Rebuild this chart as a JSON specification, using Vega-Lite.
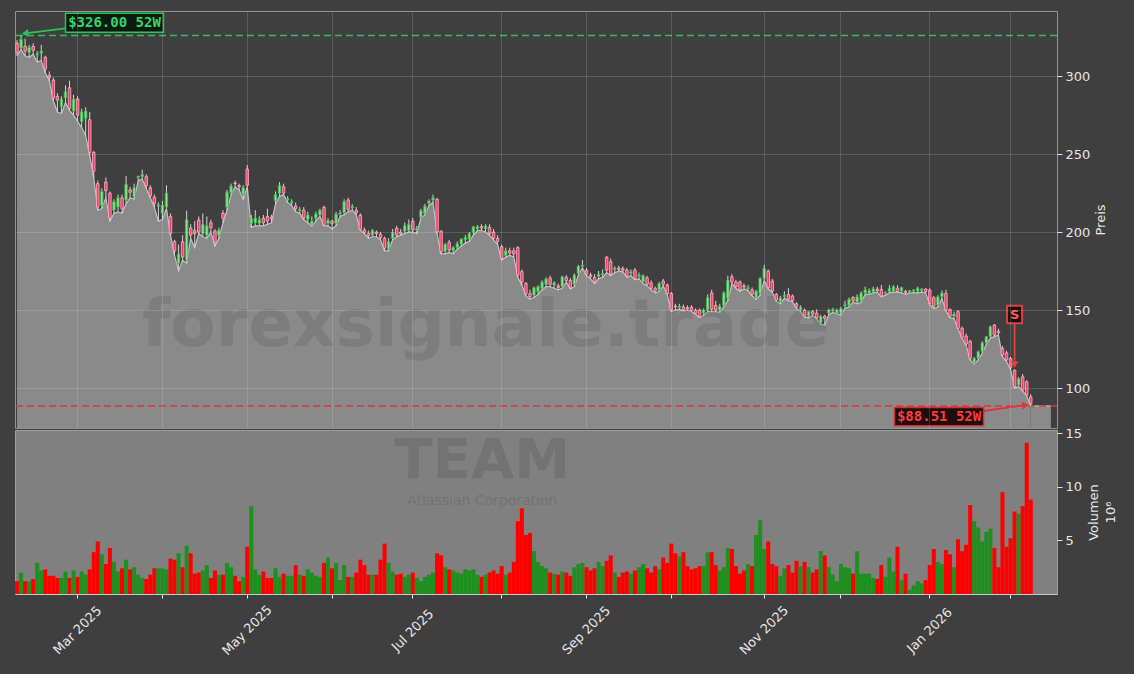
{
"$schema":"https://vega.github.io/schema/vega-lite/v6.json",
"background":"#3f3f3f",
"padding":{"left":13,"top":9,"right":40,"bottom":20},
"config":{"font":"DejaVu Sans","view":{"stroke":null}},
"datasets":{
"ohlc":[
{"d":"2025-02-07","o":321,"h":323,"l":313,"c":315,"v":1.2},
{"d":"2025-02-10","o":318,"h":326,"l":317,"c":323.5,"v":2.0},
{"d":"2025-02-11","o":319,"h":324,"l":313,"c":316,"v":1.2},
{"d":"2025-02-12","o":315,"h":320,"l":312,"c":318.4,"v":1.2},
{"d":"2025-02-13","o":319,"h":321,"l":314,"c":316.5,"v":1.4},
{"d":"2025-02-14","o":313.5,"h":316,"l":309,"c":314.5,"v":2.9},
{"d":"2025-02-18","o":314.7,"h":320,"l":310,"c":316,"v":2.2},
{"d":"2025-02-19","o":312,"h":313,"l":302,"c":304.5,"v":2.3},
{"d":"2025-02-20","o":300.6,"h":303,"l":297,"c":299,"v":1.7},
{"d":"2025-02-21","o":297.4,"h":299,"l":284,"c":286,"v":1.7},
{"d":"2025-02-24","o":287,"h":289,"l":277,"c":284.6,"v":1.5},
{"d":"2025-02-25","o":280.3,"h":287,"l":276,"c":285.3,"v":1.5},
{"d":"2025-02-26","o":286,"h":294,"l":283,"c":290,"v":2.1},
{"d":"2025-02-27","o":292.5,"h":297,"l":278,"c":279.3,"v":1.5},
{"d":"2025-02-28","o":277.6,"h":288,"l":275,"c":285.3,"v":2.2},
{"d":"2025-03-03","o":285.3,"h":287,"l":271,"c":275,"v":1.6},
{"d":"2025-03-04","o":270.7,"h":279,"l":267,"c":277,"v":2.1},
{"d":"2025-03-05","o":273,"h":280,"l":262,"c":277.6,"v":1.8},
{"d":"2025-03-06","o":272,"h":277,"l":249,"c":251,"v":2.3},
{"d":"2025-03-07","o":251,"h":252,"l":235,"c":239,"v":3.9},
{"d":"2025-03-10","o":231,"h":233,"l":214,"c":216,"v":4.9},
{"d":"2025-03-11","o":217,"h":228,"l":215,"c":226,"v":3.7},
{"d":"2025-03-12","o":232,"h":235,"l":222,"c":226.5,"v":2.8},
{"d":"2025-03-13","o":225,"h":226,"l":207,"c":209,"v":4.3},
{"d":"2025-03-14","o":214,"h":221,"l":212,"c":219.5,"v":3.0},
{"d":"2025-03-17","o":216,"h":224,"l":213,"c":222,"v":2.1},
{"d":"2025-03-18","o":222,"h":224,"l":212,"c":215,"v":2.4},
{"d":"2025-03-19","o":220.5,"h":236,"l":218,"c":230.6,"v":3.2},
{"d":"2025-03-20","o":227,"h":229,"l":222,"c":225.5,"v":2.3},
{"d":"2025-03-21","o":222.6,"h":231,"l":221,"c":228.4,"v":2.5},
{"d":"2025-03-24","o":235,"h":236,"l":233,"c":235.8,"v":1.8},
{"d":"2025-03-25","o":235.5,"h":240,"l":234,"c":237,"v":1.5},
{"d":"2025-03-26","o":235.5,"h":237,"l":228,"c":229.7,"v":1.4},
{"d":"2025-03-27","o":228.4,"h":230,"l":222,"c":223.3,"v":1.8},
{"d":"2025-03-28","o":222.4,"h":224,"l":216,"c":218.4,"v":2.4},
{"d":"2025-03-31","o":216.5,"h":219,"l":207,"c":217.5,"v":2.4},
{"d":"2025-04-01","o":212,"h":220,"l":208,"c":217.3,"v":2.4},
{"d":"2025-04-02","o":216,"h":230,"l":215,"c":225,"v":2.3},
{"d":"2025-04-03","o":210,"h":212,"l":198,"c":199,"v":3.3},
{"d":"2025-04-04","o":194,"h":195,"l":185,"c":188,"v":3.2},
{"d":"2025-04-07","o":180,"h":192,"l":175,"c":186,"v":3.8},
{"d":"2025-04-08","o":193.8,"h":198,"l":182,"c":184,"v":2.5},
{"d":"2025-04-09","o":182,"h":213.7,"l":180,"c":208,"v":4.5},
{"d":"2025-04-10","o":202.6,"h":205,"l":196,"c":198,"v":3.8},
{"d":"2025-04-11","o":201,"h":207,"l":190,"c":199,"v":1.9},
{"d":"2025-04-14","o":207.7,"h":210,"l":199,"c":200,"v":2.0},
{"d":"2025-04-15","o":199,"h":212,"l":197,"c":205,"v":2.2},
{"d":"2025-04-16","o":198,"h":210,"l":196,"c":204,"v":2.7},
{"d":"2025-04-17","o":206,"h":208,"l":200,"c":202.8,"v":1.5},
{"d":"2025-04-21","o":200.6,"h":202,"l":191,"c":193.6,"v":2.2},
{"d":"2025-04-22","o":197.6,"h":203,"l":196,"c":201.3,"v":1.8},
{"d":"2025-04-23","o":212,"h":214,"l":206,"c":208.8,"v":1.8},
{"d":"2025-04-24","o":215.8,"h":227,"l":214,"c":225.6,"v":2.9},
{"d":"2025-04-25","o":225.2,"h":231,"l":224,"c":229.5,"v":2.5},
{"d":"2025-04-28","o":231.5,"h":233,"l":229,"c":231,"v":1.7},
{"d":"2025-04-29","o":229.8,"h":231,"l":227,"c":229,"v":1.2},
{"d":"2025-04-30","o":224,"h":230,"l":221,"c":228.6,"v":1.6},
{"d":"2025-05-01","o":240.4,"h":243,"l":229,"c":230,"v":4.4},
{"d":"2025-05-02","o":205.6,"h":211,"l":203,"c":208.8,"v":8.2},
{"d":"2025-05-05","o":206,"h":214,"l":204,"c":209,"v":2.3},
{"d":"2025-05-06","o":205.6,"h":210,"l":204,"c":208,"v":1.8},
{"d":"2025-05-07","o":208.8,"h":211,"l":204,"c":206,"v":2.1},
{"d":"2025-05-08","o":210,"h":215,"l":205,"c":207,"v":1.5},
{"d":"2025-05-09","o":209.5,"h":211,"l":206,"c":208.5,"v":1.5},
{"d":"2025-05-12","o":220,"h":226,"l":218,"c":224,"v":2.4},
{"d":"2025-05-13","o":224.8,"h":232,"l":223,"c":230,"v":1.6},
{"d":"2025-05-14","o":229,"h":231,"l":224,"c":225,"v":1.9},
{"d":"2025-05-15","o":220.5,"h":223,"l":219,"c":221.5,"v":1.7},
{"d":"2025-05-16","o":218.5,"h":221,"l":217,"c":219.5,"v":1.7},
{"d":"2025-05-19","o":216.7,"h":219,"l":213,"c":215,"v":2.7},
{"d":"2025-05-20","o":213.5,"h":216,"l":212,"c":214.5,"v":1.8},
{"d":"2025-05-21","o":214,"h":216,"l":208,"c":209,"v":1.7},
{"d":"2025-05-22","o":208,"h":213,"l":206,"c":211,"v":2.3},
{"d":"2025-05-23","o":205,"h":210,"l":204,"c":207,"v":2.0},
{"d":"2025-05-27","o":208.8,"h":213,"l":207,"c":211.6,"v":1.7},
{"d":"2025-05-28","o":211,"h":215,"l":210,"c":214,"v":1.6},
{"d":"2025-05-29","o":215.8,"h":217,"l":204,"c":204.5,"v":2.9},
{"d":"2025-05-30","o":205.5,"h":209,"l":204,"c":207.5,"v":3.4},
{"d":"2025-06-02","o":207,"h":208,"l":202,"c":205.5,"v":2.4},
{"d":"2025-06-03","o":205.6,"h":213,"l":204,"c":211.5,"v":2.9},
{"d":"2025-06-04","o":211.5,"h":214,"l":210,"c":212.3,"v":1.3},
{"d":"2025-06-05","o":212.4,"h":221,"l":211,"c":219.5,"v":2.7},
{"d":"2025-06-06","o":220.5,"h":222,"l":213,"c":214.5,"v":1.6},
{"d":"2025-06-09","o":215.5,"h":218,"l":214,"c":216.5,"v":1.6},
{"d":"2025-06-10","o":214,"h":216,"l":211,"c":212.5,"v":2.0},
{"d":"2025-06-11","o":210.9,"h":212,"l":201,"c":201.7,"v":3.2},
{"d":"2025-06-12","o":201.3,"h":203,"l":199,"c":199.8,"v":2.7},
{"d":"2025-06-13","o":199,"h":201,"l":196,"c":197.5,"v":1.8},
{"d":"2025-06-16","o":198,"h":202,"l":197,"c":201,"v":1.8},
{"d":"2025-06-17","o":200,"h":201,"l":197,"c":199,"v":1.8},
{"d":"2025-06-18","o":198.5,"h":200,"l":195,"c":196.4,"v":3.2},
{"d":"2025-06-20","o":196,"h":197,"l":188,"c":189.6,"v":4.7},
{"d":"2025-06-23","o":189,"h":196,"l":188,"c":194,"v":2.9},
{"d":"2025-06-24","o":196,"h":202,"l":195,"c":200,"v":2.1},
{"d":"2025-06-25","o":202.4,"h":204,"l":197,"c":198,"v":1.8},
{"d":"2025-06-26","o":200,"h":202,"l":198,"c":199,"v":1.9},
{"d":"2025-06-27","o":200.5,"h":206,"l":199,"c":204,"v":1.6},
{"d":"2025-06-30","o":201,"h":208,"l":200,"c":205,"v":1.8},
{"d":"2025-07-01","o":207,"h":209,"l":200,"c":201.5,"v":2.0},
{"d":"2025-07-02","o":201,"h":204,"l":199,"c":202.5,"v":1.5},
{"d":"2025-07-03","o":209.5,"h":215,"l":209,"c":213.7,"v":1.2},
{"d":"2025-07-07","o":212,"h":218,"l":211,"c":216.8,"v":1.6},
{"d":"2025-07-08","o":218.4,"h":221,"l":217,"c":220,"v":1.8},
{"d":"2025-07-09","o":220.5,"h":224,"l":219,"c":222,"v":2.0},
{"d":"2025-07-10","o":221,"h":222,"l":199,"c":200.2,"v":3.8},
{"d":"2025-07-11","o":200.6,"h":201,"l":186,"c":187.4,"v":3.6},
{"d":"2025-07-14","o":187.4,"h":193,"l":186,"c":192,"v":2.5},
{"d":"2025-07-15","o":193.4,"h":195,"l":187,"c":188.5,"v":2.3},
{"d":"2025-07-16","o":188,"h":191,"l":186,"c":190,"v":2.2},
{"d":"2025-07-17","o":190,"h":194,"l":189,"c":192.5,"v":2.0},
{"d":"2025-07-18","o":192.3,"h":196,"l":191,"c":195.5,"v":1.9},
{"d":"2025-07-21","o":195,"h":198,"l":193,"c":196.5,"v":2.3},
{"d":"2025-07-22","o":195.5,"h":200,"l":194,"c":199.2,"v":2.2},
{"d":"2025-07-23","o":199.8,"h":204,"l":198,"c":203.4,"v":2.3},
{"d":"2025-07-24","o":202,"h":204.5,"l":201,"c":203.5,"v":1.8},
{"d":"2025-07-25","o":203.5,"h":205,"l":201,"c":202.5,"v":1.6},
{"d":"2025-07-28","o":202,"h":205,"l":200,"c":204,"v":1.8},
{"d":"2025-07-29","o":203,"h":205,"l":198,"c":199,"v":2.0},
{"d":"2025-07-30","o":200,"h":202,"l":195,"c":196,"v":2.2},
{"d":"2025-07-31","o":196,"h":198,"l":192,"c":194,"v":1.9},
{"d":"2025-08-01","o":190.6,"h":192,"l":182,"c":183,"v":2.6},
{"d":"2025-08-04","o":185,"h":190,"l":184,"c":188,"v":1.8},
{"d":"2025-08-05","o":188,"h":190,"l":185,"c":186.5,"v":2.0},
{"d":"2025-08-06","o":188,"h":190,"l":184,"c":186,"v":3.0},
{"d":"2025-08-07","o":190,"h":191,"l":171,"c":172.4,"v":6.8},
{"d":"2025-08-08","o":174.6,"h":176,"l":166,"c":168,"v":8.0},
{"d":"2025-08-11","o":167,"h":168,"l":159,"c":160.6,"v":5.5},
{"d":"2025-08-12","o":160.5,"h":163,"l":157,"c":158.5,"v":5.7},
{"d":"2025-08-13","o":159.6,"h":165,"l":158,"c":164.3,"v":4.0},
{"d":"2025-08-14","o":161.7,"h":166,"l":160,"c":165,"v":3.0},
{"d":"2025-08-15","o":163.9,"h":169,"l":163,"c":168,"v":2.6},
{"d":"2025-08-18","o":166.5,"h":171,"l":165,"c":170,"v":2.4},
{"d":"2025-08-19","o":170.5,"h":172,"l":165,"c":166.5,"v":2.0},
{"d":"2025-08-20","o":166,"h":168.5,"l":164,"c":167.5,"v":1.9},
{"d":"2025-08-21","o":165.5,"h":167,"l":163,"c":164.5,"v":1.8},
{"d":"2025-08-22","o":165,"h":172,"l":164,"c":171.4,"v":2.1},
{"d":"2025-08-25","o":171,"h":172.5,"l":168,"c":169,"v":2.0},
{"d":"2025-08-26","o":169,"h":170.5,"l":163.5,"c":164.3,"v":1.7},
{"d":"2025-08-27","o":166.5,"h":173.5,"l":165,"c":172.5,"v":2.5},
{"d":"2025-08-28","o":173.5,"h":179,"l":172.5,"c":178,"v":2.8},
{"d":"2025-08-29","o":178,"h":182,"l":177,"c":178.8,"v":2.9},
{"d":"2025-09-02","o":175.6,"h":177,"l":172,"c":173,"v":2.5},
{"d":"2025-09-03","o":172.5,"h":174,"l":170,"c":171.5,"v":2.2},
{"d":"2025-09-04","o":171,"h":173,"l":167,"c":168,"v":2.4},
{"d":"2025-09-05","o":171.5,"h":175,"l":170,"c":173,"v":3.0},
{"d":"2025-09-08","o":172.5,"h":176,"l":171,"c":173.5,"v":2.6},
{"d":"2025-09-09","o":184,"h":184.5,"l":174,"c":175.6,"v":3.1},
{"d":"2025-09-10","o":181,"h":183,"l":172,"c":173,"v":3.6},
{"d":"2025-09-11","o":176,"h":178,"l":174,"c":177,"v":2.0},
{"d":"2025-09-12","o":177,"h":178.5,"l":175,"c":176,"v":1.6},
{"d":"2025-09-15","o":176.5,"h":178,"l":174.5,"c":175.5,"v":2.0},
{"d":"2025-09-16","o":175.6,"h":177,"l":171,"c":172,"v":2.1},
{"d":"2025-09-17","o":173.5,"h":176,"l":172,"c":174.5,"v":1.9},
{"d":"2025-09-18","o":175.6,"h":177,"l":169.5,"c":170.3,"v":2.2},
{"d":"2025-09-19","o":171.5,"h":174,"l":170,"c":172.5,"v":2.5},
{"d":"2025-09-22","o":168,"h":173,"l":167,"c":172,"v":2.8},
{"d":"2025-09-23","o":170.7,"h":172,"l":165.5,"c":166.5,"v":2.4},
{"d":"2025-09-24","o":167.5,"h":169,"l":163,"c":164,"v":2.0},
{"d":"2025-09-25","o":164,"h":165,"l":161,"c":162.5,"v":2.6},
{"d":"2025-09-26","o":162.8,"h":168,"l":162,"c":167,"v":2.3},
{"d":"2025-09-29","o":168.6,"h":170,"l":165.5,"c":166.5,"v":3.4},
{"d":"2025-09-30","o":166,"h":167,"l":160,"c":160.7,"v":2.9},
{"d":"2025-10-01","o":160.7,"h":161.5,"l":149,"c":150,"v":4.7},
{"d":"2025-10-02","o":152.5,"h":154,"l":150,"c":152,"v":3.8},
{"d":"2025-10-03","o":151.5,"h":154,"l":150.5,"c":152.5,"v":3.5},
{"d":"2025-10-06","o":152,"h":153.5,"l":149.5,"c":150,"v":3.9},
{"d":"2025-10-07","o":151.5,"h":153,"l":150,"c":150.8,"v":2.6},
{"d":"2025-10-08","o":152,"h":153,"l":149,"c":150,"v":2.3},
{"d":"2025-10-09","o":150,"h":151,"l":147.5,"c":148,"v":2.4},
{"d":"2025-10-10","o":150,"h":151,"l":145,"c":145.7,"v":2.6},
{"d":"2025-10-13","o":148,"h":151,"l":146.5,"c":150,"v":2.6},
{"d":"2025-10-14","o":150,"h":160,"l":149,"c":158,"v":3.9},
{"d":"2025-10-15","o":161,"h":163,"l":149,"c":150.5,"v":3.9},
{"d":"2025-10-16","o":153,"h":156,"l":149,"c":150,"v":2.7},
{"d":"2025-10-17","o":150,"h":154,"l":148.5,"c":152.5,"v":2.2},
{"d":"2025-10-20","o":153,"h":162,"l":152,"c":161,"v":2.5},
{"d":"2025-10-21","o":157.5,"h":172,"l":156,"c":169.2,"v":4.3},
{"d":"2025-10-22","o":171.4,"h":173,"l":167,"c":168,"v":4.2},
{"d":"2025-10-23","o":168,"h":169.5,"l":164,"c":165,"v":2.6},
{"d":"2025-10-24","o":168,"h":169,"l":162,"c":163,"v":1.9},
{"d":"2025-10-27","o":165.5,"h":167,"l":163.5,"c":164.8,"v":2.2},
{"d":"2025-10-28","o":163.5,"h":166,"l":162.5,"c":164.5,"v":2.8},
{"d":"2025-10-29","o":163,"h":164.5,"l":159,"c":160,"v":2.6},
{"d":"2025-10-30","o":158,"h":163,"l":157,"c":162,"v":5.5},
{"d":"2025-10-31","o":160.7,"h":171,"l":159.5,"c":170.4,"v":6.9},
{"d":"2025-11-03","o":170.4,"h":179,"l":169,"c":176.7,"v":4.2},
{"d":"2025-11-04","o":175,"h":176,"l":163.5,"c":164.3,"v":4.9},
{"d":"2025-11-05","o":168.6,"h":170,"l":161.5,"c":162.2,"v":2.8},
{"d":"2025-11-06","o":160,"h":161,"l":155.5,"c":156.4,"v":2.6},
{"d":"2025-11-07","o":155,"h":159,"l":154,"c":158,"v":1.7},
{"d":"2025-11-10","o":158.5,"h":162,"l":157.5,"c":159.5,"v":2.4},
{"d":"2025-11-11","o":160,"h":164,"l":156,"c":157,"v":2.7},
{"d":"2025-11-12","o":159,"h":160,"l":155.5,"c":156,"v":2.0},
{"d":"2025-11-13","o":154,"h":155,"l":151,"c":152,"v":3.1},
{"d":"2025-11-14","o":150,"h":153,"l":149,"c":152,"v":2.6},
{"d":"2025-11-17","o":150,"h":151,"l":145.5,"c":146,"v":3.0},
{"d":"2025-11-18","o":146,"h":149.5,"l":145,"c":149,"v":2.5},
{"d":"2025-11-19","o":149,"h":150,"l":146.5,"c":147.5,"v":2.0},
{"d":"2025-11-20","o":148,"h":150.5,"l":144.5,"c":145,"v":2.3},
{"d":"2025-11-21","o":142,"h":147,"l":141,"c":146,"v":4.0},
{"d":"2025-11-24","o":146,"h":147,"l":140.4,"c":144.5,"v":3.6},
{"d":"2025-11-25","o":148,"h":151,"l":147,"c":150,"v":2.5},
{"d":"2025-11-26","o":149.5,"h":151.5,"l":148.5,"c":150.5,"v":1.8},
{"d":"2025-11-28","o":148,"h":151,"l":147.5,"c":150,"v":1.2},
{"d":"2025-12-01","o":148,"h":152,"l":147,"c":151,"v":2.8},
{"d":"2025-12-02","o":152.5,"h":156,"l":151,"c":153.5,"v":2.5},
{"d":"2025-12-03","o":153,"h":158,"l":152,"c":157,"v":2.4},
{"d":"2025-12-04","o":158,"h":159,"l":155,"c":156,"v":1.9},
{"d":"2025-12-05","o":155,"h":160,"l":154,"c":158.5,"v":4.0},
{"d":"2025-12-08","o":156,"h":162,"l":155,"c":161,"v":1.9},
{"d":"2025-12-09","o":161,"h":165,"l":160,"c":163,"v":1.9},
{"d":"2025-12-10","o":160.5,"h":164,"l":160,"c":162.5,"v":1.9},
{"d":"2025-12-11","o":161.7,"h":165,"l":161,"c":163.8,"v":1.5},
{"d":"2025-12-12","o":163.5,"h":165,"l":161.5,"c":162.5,"v":1.4},
{"d":"2025-12-15","o":163.2,"h":166,"l":158.5,"c":159,"v":2.7},
{"d":"2025-12-16","o":160.5,"h":162,"l":159.5,"c":161.3,"v":1.6},
{"d":"2025-12-17","o":161.7,"h":166,"l":161,"c":164,"v":3.4},
{"d":"2025-12-18","o":162,"h":166,"l":161.5,"c":165,"v":2.1},
{"d":"2025-12-19","o":164,"h":166,"l":161.5,"c":162,"v":4.4},
{"d":"2025-12-22","o":162,"h":165,"l":161,"c":164.5,"v":1.3},
{"d":"2025-12-23","o":162,"h":163,"l":160,"c":161,"v":1.9},
{"d":"2025-12-24","o":161.5,"h":163,"l":161,"c":162.5,"v":0.4},
{"d":"2025-12-26","o":162,"h":163.5,"l":161,"c":162.8,"v":0.8},
{"d":"2025-12-29","o":162,"h":165,"l":161,"c":164,"v":1.2},
{"d":"2025-12-30","o":162.5,"h":164,"l":161.5,"c":163.5,"v":1.0},
{"d":"2025-12-31","o":163.5,"h":164,"l":161,"c":162,"v":1.3},
{"d":"2026-01-02","o":162.8,"h":164,"l":153.5,"c":154.3,"v":2.7},
{"d":"2026-01-05","o":158,"h":159,"l":151,"c":152.5,"v":4.2},
{"d":"2026-01-06","o":153.2,"h":159.5,"l":152,"c":158.5,"v":3.0},
{"d":"2026-01-07","o":158.5,"h":162.5,"l":157.5,"c":161,"v":2.8},
{"d":"2026-01-08","o":160.7,"h":163,"l":149.5,"c":150,"v":4.1},
{"d":"2026-01-09","o":150.4,"h":151,"l":145,"c":146,"v":3.7},
{"d":"2026-01-12","o":146,"h":149,"l":144.5,"c":147.5,"v":2.5},
{"d":"2026-01-13","o":149,"h":150,"l":138,"c":138.3,"v":5.1},
{"d":"2026-01-14","o":138.3,"h":139.5,"l":132,"c":132.5,"v":4.0},
{"d":"2026-01-15","o":133.3,"h":135,"l":127.5,"c":128.2,"v":4.6},
{"d":"2026-01-16","o":130,"h":131,"l":118,"c":119,"v":8.3},
{"d":"2026-01-20","o":116.2,"h":120,"l":115.5,"c":119,"v":6.8},
{"d":"2026-01-21","o":119,"h":124,"l":118,"c":123.3,"v":6.2},
{"d":"2026-01-22","o":123.3,"h":130,"l":122.5,"c":129,"v":4.9},
{"d":"2026-01-23","o":129,"h":133.5,"l":128,"c":132.9,"v":5.8},
{"d":"2026-01-26","o":132.9,"h":140,"l":132,"c":139.3,"v":6.1},
{"d":"2026-01-27","o":140.4,"h":141,"l":133,"c":134,"v":4.3},
{"d":"2026-01-28","o":136.5,"h":138,"l":134,"c":135.5,"v":2.5},
{"d":"2026-01-29","o":125.4,"h":127,"l":120,"c":121.2,"v":9.5},
{"d":"2026-01-30","o":122.6,"h":124,"l":117,"c":118,"v":4.4},
{"d":"2026-02-02","o":119,"h":120,"l":112,"c":113,"v":5.2},
{"d":"2026-02-03","o":111.5,"h":112,"l":100,"c":100.8,"v":7.7},
{"d":"2026-02-04","o":102,"h":107,"l":101,"c":106,"v":7.5},
{"d":"2026-02-05","o":107.2,"h":109,"l":98,"c":98.7,"v":8.2},
{"d":"2026-02-06","o":104,"h":105,"l":95,"c":95.5,"v":14.1},
{"d":"2026-02-09","o":94.4,"h":96,"l":88.51,"c":90.2,"v":8.8}
],
"pad":[
{"d":"2026-02-09","l":88.51},
{"d":"2026-02-10","l":88.51},
{"d":"2026-02-11","l":88.51},
{"d":"2026-02-12","l":88.51},
{"d":"2026-02-13","l":88.51},
{"d":"2026-02-17","l":88.51}
]
},
"spacing":2,
"bounds":"flush",
"resolve":{"scale":{"x":"shared"}},
"vconcat":[
{
"width":1042,"height":417,
"view":{"stroke":"#939393","strokeWidth":1},
"layer":[
{"data":{"name":"ohlc"},
 "mark":{"type":"area","color":"#8a8a8a","opacity":1,"clip":true,"line":{"color":"#c2c2c2","strokeWidth":1.2}},
 "encoding":{
  "x":{"field":"d","type":"ordinal","bandPosition":0.5,
   "scale":{"type":"band","paddingInner":0,"paddingOuter":0.5,"align":0},
   "axis":{"values":["2025-03-03","2025-04-01","2025-05-01","2025-06-02","2025-07-01","2025-08-01","2025-09-02","2025-10-01","2025-11-03","2025-12-01","2026-01-02","2026-02-02"],"labels":false,"ticks":false,"domain":false,"grid":true,"gridColor":"#ffffff","gridOpacity":0.14,"title":null,"zindex":1,"minExtent":0,"maxExtent":0,"offset":0}},
  "y":{"field":"l","type":"quantitative","scale":{"domain":[74.4,341.7],"nice":false,"zero":false},
   "axis":{"orient":"right","values":[100,150,200,250,300],"title":"Preis","grid":true,"gridColor":"#ffffff","gridOpacity":0.14,"domain":false,"tickColor":"#e6e6e6","tickSize":5,"labelColor":"#e6e6e6","labelFontSize":13,"labelPadding":3,"titleColor":"#e6e6e6","titleFontSize":13,"titleFontWeight":"normal","titleAngle":-90,"titlePadding":18,"zindex":1}}}},
{"data":{"name":"pad"},
 "mark":{"type":"area","color":"#8a8a8a","opacity":1,"clip":true,"line":{"color":"#c2c2c2","strokeWidth":1.2}},
 "encoding":{"x":{"field":"d","type":"ordinal","bandPosition":0.5},"y":{"field":"l","type":"quantitative"}}},
{"data":{"values":[{}]},
 "mark":{"type":"rule","color":"#2fbf5a","strokeDash":[7,4],"strokeWidth":1.5},
 "encoding":{"y":{"datum":326}}},
{"data":{"values":[{}]},
 "mark":{"type":"rule","color":"#e03535","strokeDash":[7,4],"strokeWidth":1.5},
 "encoding":{"y":{"datum":88.51}}},
{"data":{"values":[{}]},
 "mark":{"type":"text","text":"forexsignale.trade","font":"DejaVu Sans","fontWeight":"bold","fontSize":66,"color":"#404040","opacity":0.17,"align":"center","baseline":"alphabetic"},
 "encoding":{"x":{"datum":"2025-07-28","type":"ordinal","bandPosition":0.5},"y":{"datum":126.9}}},
{"data":{"name":"ohlc"},
 "mark":{"type":"rule","color":"#d4d4d4","strokeWidth":1},
 "encoding":{"x":{"field":"d","type":"ordinal","bandPosition":0.5},"y":{"field":"l","type":"quantitative"},"y2":{"field":"h"}}},
{"data":{"name":"ohlc"},
 "mark":{"type":"bar","width":{"band":0.62},"strokeWidth":0.8},
 "encoding":{"x":{"field":"d","type":"ordinal"},"y":{"field":"o","type":"quantitative"},"y2":{"field":"c"},
  "fill":{"condition":{"test":"datum.c >= datum.o","value":"#8fe08f"},"value":"#f0406a"},
  "stroke":{"condition":{"test":"datum.c >= datum.o","value":"#3cb04a"},"value":"#ffb0c0"}}},
{"data":{"values":[{}]},
 "mark":{"type":"rule","color":"#2fbf5a","strokeWidth":1.8},
 "encoding":{"x":{"datum":"2025-02-26","type":"ordinal","bandPosition":0.5},"x2":{"datum":"2025-02-11"},"y":{"datum":330.6},"y2":{"datum":327.4}}},
{"data":{"values":[{}]},
 "mark":{"type":"point","shape":"triangle-left","size":60,"filled":true,"color":"#2fbf5a","opacity":1,"angle":-7},
 "encoding":{"x":{"datum":"2025-02-11","type":"ordinal","bandPosition":0.5},"y":{"datum":327.4}}},
{"data":{"values":[{}]},
 "mark":{"type":"point","shape":"M-1,-0.194L1,-0.194L1,0.194L-1,0.194Z","size":9604,"filled":true,"fill":"#0c1a10","stroke":"#2fbf5a","strokeWidth":1.5,"opacity":1},
 "encoding":{"x":{"datum":"2025-03-14","type":"ordinal","bandPosition":0.64},"y":{"datum":334.1}}},
{"data":{"values":[{}]},
 "mark":{"type":"text","text":"$326.00 52W","font":"DejaVu Sans Mono","fontWeight":"bold","fontSize":14,"color":"#36d46c","align":"center","baseline":"middle"},
 "encoding":{"x":{"datum":"2025-03-14","type":"ordinal","bandPosition":0.64},"y":{"datum":334.1}}},
{"data":{"values":[{}]},
 "mark":{"type":"rule","color":"#e03535","strokeWidth":1.8},
 "encoding":{"x":{"datum":"2026-01-22","type":"ordinal","bandPosition":0.8},"x2":{"datum":"2026-02-05"},"y":{"datum":85.3},"y2":{"datum":88.9}}},
{"data":{"values":[{}]},
 "mark":{"type":"point","shape":"triangle-right","size":60,"filled":true,"color":"#e03535","opacity":1,"angle":-8},
 "encoding":{"x":{"datum":"2026-02-06","type":"ordinal","bandPosition":0.2},"y":{"datum":89.0}}},
{"data":{"values":[{}]},
 "mark":{"type":"point","shape":"M-1,-0.207L1,-0.207L1,0.207L-1,0.207Z","size":7921,"filled":true,"fill":"#1e0d0d","stroke":"#d03030","strokeWidth":1.5,"opacity":1},
 "encoding":{"x":{"datum":"2026-01-06","type":"ordinal","bandPosition":0.8},"y":{"datum":81.7}}},
{"data":{"values":[{}]},
 "mark":{"type":"text","text":"$88.51 52W","font":"DejaVu Sans Mono","fontWeight":"bold","fontSize":14,"color":"#ff3b3b","align":"center","baseline":"middle"},
 "encoding":{"x":{"datum":"2026-01-06","type":"ordinal","bandPosition":0.8},"y":{"datum":81.7}}},
{"data":{"values":[{}]},
 "mark":{"type":"rule","color":"#e04040","strokeWidth":1.8},
 "encoding":{"x":{"datum":"2026-02-03","type":"ordinal","bandPosition":0.5},"y":{"datum":141.6},"y2":{"datum":117}}},
{"data":{"values":[{}]},
 "mark":{"type":"point","shape":"triangle-down","size":60,"filled":true,"color":"#e04040","opacity":1},
 "encoding":{"x":{"datum":"2026-02-03","type":"ordinal","bandPosition":0.5},"y":{"datum":115}}},
{"data":{"values":[{}]},
 "mark":{"type":"point","shape":"M-0.857,-1L0.857,-1L0.857,1L-0.857,1Z","size":306,"filled":true,"fill":"#1e0d0d","stroke":"#d64545","strokeWidth":2,"opacity":1},
 "encoding":{"x":{"datum":"2026-02-03","type":"ordinal","bandPosition":0.5},"y":{"datum":147.1}}},
{"data":{"values":[{}]},
 "mark":{"type":"text","text":"S","font":"DejaVu Sans","fontWeight":"bold","fontSize":13,"color":"#ff5a5a","align":"center","baseline":"middle"},
 "encoding":{"x":{"datum":"2026-02-03","type":"ordinal","bandPosition":0.5},"y":{"datum":147.1}}}
]
},
{
"width":1042,"height":164,
"view":{"fill":"#808080","stroke":"#a0a0a0","strokeWidth":1},
"layer":[
{"data":{"name":"ohlc"},
 "mark":{"type":"bar"},
 "encoding":{
  "x":{"field":"d","type":"ordinal",
   "scale":{"type":"band","paddingInner":0,"paddingOuter":0.5,"align":0},
   "axis":{"values":["2025-03-03","2025-04-01","2025-05-01","2025-06-02","2025-07-01","2025-08-01","2025-09-02","2025-10-01","2025-11-03","2025-12-01","2026-01-02","2026-02-02"],
    "labelExpr":"utcmonth(toDate(datum.value)) % 2 == 0 ? utcFormat(toDate(datum.value), '%b %Y') : ''",
    "labelAngle":-45,"labelAlign":"center","labelBaseline":"middle","labelPadding":32,"labelColor":"#e6e6e6","labelFontSize":13,"labelOverlap":false,
    "tickColor":"#e6e6e6","tickSize":4,"domainColor":"#c8c8c8","grid":false,"title":null}},
  "y":{"field":"v","type":"quantitative","scale":{"domain":[0,15.3],"nice":false},
   "axis":{"orient":"right","values":[5,10,15],"title":["Volumen","10⁶"],"grid":false,"domain":false,"tickColor":"#e6e6e6","tickSize":5,"labelColor":"#e6e6e6","labelFontSize":13,"labelPadding":3,"titleColor":"#e6e6e6","titleFontSize":13,"titleFontWeight":"normal","titleAngle":-90,"titlePadding":2,"titleLineHeight":17}},
  "color":{"condition":{"test":"datum.c >= datum.o","value":"#1f8f1f"},"value":"#ff0000"}}},
{"data":{"values":[{}]},
 "mark":{"type":"text","text":"TEAM","font":"DejaVu Sans","fontWeight":"bold","fontSize":56,"color":"#404040","opacity":0.2,"align":"center","baseline":"alphabetic"},
 "encoding":{"x":{"datum":"2025-07-25","type":"ordinal","bandPosition":0.7},"y":{"datum":10.85}}},
{"data":{"values":[{}]},
 "mark":{"type":"text","text":"Atlassian Corporation","font":"DejaVu Sans","fontSize":14,"color":"#404040","opacity":0.2,"align":"center","baseline":"alphabetic"},
 "encoding":{"x":{"datum":"2025-07-25","type":"ordinal","bandPosition":0.7},"y":{"datum":8.3}}}
]
}
]
}
